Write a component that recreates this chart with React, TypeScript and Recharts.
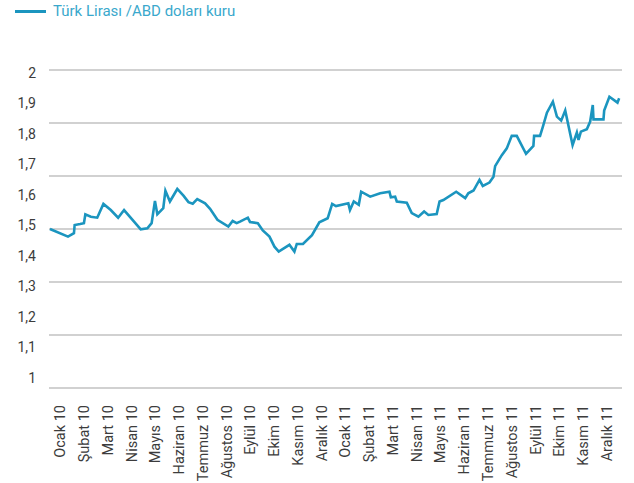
import React from 'react';
import { LineChart, Line, XAxis, YAxis, ReferenceLine } from 'recharts';

// month labels on the category axis
const MONTHS = [
    'Ocak 10', 'Şubat 10', 'Mart 10', 'Nisan 10', 'Mayıs 10', 'Haziran 10',
    'Temmuz 10', 'Ağustos 10', 'Eylül 10', 'Ekim 10', 'Kasım 10', 'Aralık 10',
    'Ocak 11', 'Şubat 11', 'Mart 11', 'Nisan 11', 'Mayıs 11', 'Haziran 11',
    'Temmuz 11', 'Ağustos 11', 'Eylül 11', 'Ekim 11', 'Kasım 11', 'Aralık 11',
];

// time in months since start of Jan 2010
const TIME = [
    0.04, 0.80, 1.05, 1.08, 1.31, 1.47, 1.53, 1.76, 2.03, 2.29, 2.60, 2.91, 3.16, 3.58, 3.86,
    4.14, 4.32, 4.46, 4.56, 4.81, 4.90, 5.09, 5.40, 5.66, 5.87, 6.05, 6.24, 6.57, 6.78, 7.09,
    7.55, 7.73, 7.90, 8.04, 8.37, 8.46, 8.79, 9.00, 9.28, 9.49, 9.67, 10.12, 10.33, 10.43, 10.69,
    11.07, 11.38, 11.73, 11.92, 12.08, 12.60, 12.67, 12.83, 13.04, 13.14, 13.52, 13.94, 14.33, 14.39, 14.57,
    14.64, 15.06, 15.27, 15.55, 15.79, 15.97, 16.32, 16.44, 16.60, 17.14, 17.52, 17.65, 17.87, 18.12, 18.26,
    18.54, 18.71, 18.78, 19.06, 19.27, 19.48, 19.69, 20.08, 20.39, 20.42, 20.67, 20.79, 20.96, 21.21, 21.38,
    21.56, 21.73, 22.04, 22.22, 22.29, 22.39, 22.64, 22.78, 22.89, 22.92, 23.34, 23.37, 23.59, 23.93, 24.0,
];

// TL / USD rate
const RATE = [
    1.488, 1.463, 1.474, 1.501, 1.504, 1.507, 1.536, 1.528, 1.525, 1.570, 1.550, 1.525, 1.550, 1.512, 1.487,
    1.490, 1.507, 1.580, 1.536, 1.556, 1.613, 1.578, 1.619, 1.597, 1.576, 1.571, 1.586, 1.572, 1.554, 1.518,
    1.496, 1.514, 1.507, 1.512, 1.525, 1.511, 1.507, 1.483, 1.463, 1.430, 1.414, 1.436, 1.414, 1.439, 1.439,
    1.468, 1.510, 1.523, 1.570, 1.563, 1.572, 1.550, 1.578, 1.567, 1.610, 1.594, 1.605, 1.610, 1.592, 1.594,
    1.578, 1.574, 1.540, 1.528, 1.545, 1.534, 1.537, 1.578, 1.583, 1.610, 1.589, 1.605, 1.614, 1.649, 1.629,
    1.640, 1.659, 1.694, 1.730, 1.752, 1.793, 1.793, 1.734, 1.760, 1.793, 1.793, 1.823, 1.869, 1.905, 1.856,
    1.843, 1.876, 1.763, 1.804, 1.780, 1.807, 1.815, 1.840, 1.894, 1.847, 1.847, 1.876, 1.921, 1.902, 1.916,
];

const Y_TICKS = [1, 1.1, 1.2, 1.3, 1.4, 1.5, 1.6, 1.7, 1.8, 1.9, 2];
// gridlines in the original sit on their own 6-step scale
const GRID_STEPS = [0, 1, 2, 3, 4, 5, 6];

const data = TIME.map((m, i) => ({ m, rate: RATE[i] }));
const monthTicks = MONTHS.map((_, i) => i + 0.5);

const LINE_COLOR = '#1b95bf';
const FONT = 'Roboto, "DejaVu Sans", sans-serif';

const MonthTick = (props: any) => {
    const { x, y, payload } = props;
    const label = MONTHS[Math.floor(payload.value)];
    return (
        <text
            x={x}
            y={y}
            transform={`rotate(-90, ${x}, ${y})`}
            textAnchor="end"
            dominantBaseline="central"
            fontSize={14.5}
            fontFamily={FONT}
            fill="#3c3c3c"
        >
            {label}
        </text>
    );
};

const RateTick = (props: any) => {
    const { y, payload } = props;
    const label = String(Math.round(payload.value * 10) / 10).replace('.', ',');
    return (
        <text x={36} y={y} textAnchor="end" dominantBaseline="central" fontSize={14} fontFamily={FONT} fill="#3c3c3c">
            {label}
        </text>
    );
};

const App: React.FC = () => {
    return (
        <div style={{ position: 'absolute', left: 0, top: 0, width: 634, height: 483, background: '#fff' }}>
            <div style={{ position: 'absolute', left: 15, top: 2, display: 'flex', alignItems: 'center', fontFamily: FONT, fontSize: 15, color: '#3aa8cc' }}>
                <span style={{ display: 'inline-block', width: 31, height: 3, background: LINE_COLOR, marginRight: 7 }} />
                <span>Türk Lirası /ABD doları kuru</span>
            </div>
            <LineChart width={634} height={483} data={data} margin={{ top: 70, right: 12, left: 0, bottom: 0 }}>
                <XAxis
                    dataKey="m"
                    type="number"
                    domain={[0, 24.12]}
                    ticks={monthTicks}
                    interval={0}
                    height={95}
                    axisLine={false}
                    tickLine={false}
                    tickSize={0}
                    tickMargin={17}
                    tick={<MonthTick />}
                />
                <YAxis
                    yAxisId="v"
                    type="number"
                    domain={[0.967, 2.0088]}
                    ticks={Y_TICKS}
                    interval={0}
                    width={49}
                    axisLine={false}
                    tickLine={false}
                    tick={<RateTick />}
                />
                <YAxis yAxisId="g" type="number" domain={[0, 6]} ticks={GRID_STEPS} width={0} hide />
                {GRID_STEPS.map((s) => (
                    <ReferenceLine key={s} yAxisId="g" y={s} stroke="#a3a3a3" strokeWidth={1.2} ifOverflow="extendDomain" />
                ))}
                <Line
                    yAxisId="v"
                    type="linear"
                    dataKey="rate"
                    stroke={LINE_COLOR}
                    strokeWidth={2.6}
                    dot={false}
                    isAnimationActive={false}
                />
            </LineChart>
        </div>
    );
};

export default App;
